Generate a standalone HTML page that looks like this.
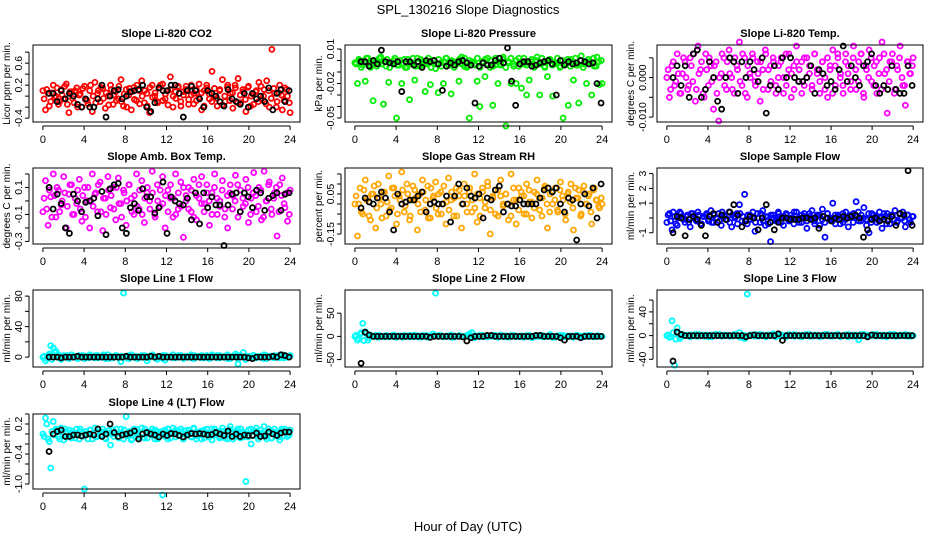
<!DOCTYPE html>
<html><head><meta charset="utf-8"><style>
html,body{margin:0;padding:0;background:#fff}
svg{display:block;font-family:"Liberation Sans",Arial,sans-serif}
</style></head><body>
<svg id="chart" width="936" height="540" viewBox="0 0 936 540">
<text x="468" y="14" text-anchor="middle" font-size="13">SPL_130216  Slope Diagnostics</text>
<text x="468" y="531" text-anchor="middle" font-size="13">Hour of Day (UTC)</text>
</svg>
<script>
const xTicks=[0,4,8,12,16,20,24];
const co2Color=[0.1,-0.25,0.05,-0.1,0.2,0.0,-0.15,0.12,-0.05,0.22,-0.3,0.08,-0.12,0.15,0.02,-0.2,0.18,-0.08,0.1,-0.28,0.25,0.05,-0.1,0.14,-0.22,0.0,0.2,-0.15,0.08,-0.05,0.3,-0.18,0.12,0.02,-0.25,0.16,-0.08,0.1,0.28,-0.12,0.05,-0.3,0.2,0.0,-0.1,0.15,0.22,-0.05,0.1,0.35,-0.2,0.08,0.18,-0.1,0.02,0.12,-0.15,0.2,0.05,-0.08,0.22,-0.25,0.1,0.15,-0.05,0.45,0.0,-0.18,0.12,0.3,-0.1,0.2,0.05,-0.22,0.15,0.32,-0.12,0.08,-0.28,0.18,0.0,-0.15,0.1,0.25,-0.05,0.12,0.28,-0.2,0.85,0.05,-0.1,0.2,-0.25,0.15,0.0,-0.3];
const co2Color2=[-0.05,0.12,-0.18,0.06,-0.02,0.15,-0.1,0.02,0.18,-0.15,0.08,-0.04,0.1,-0.2,0.04,0.14,-0.06,-0.14,0.2,0.0,-0.12,0.1,0.16,-0.04,0.06,-0.16,0.12,0.02,-0.08,0.18,-0.1,0.04,-0.2,0.14,0.08,-0.06,0.2,-0.14,0.0,0.1,-0.18,0.16,-0.02,0.06,-0.12,0.2,-0.08,0.04,-0.16,0.12,0.0,-0.04,0.16,-0.18,0.08,0.18,-0.06,0.02,-0.14,0.12,-0.02,0.06,-0.18,0.2,0.04,-0.1,0.14,-0.04,0.1,-0.16,0.0,0.16,-0.08,0.06,0.2,-0.12,0.02,0.12,-0.06,0.16,-0.18,0.04,0.08,-0.1,0.18,0.0,-0.14,0.1,-0.04,0.14,-0.2,0.06,0.02,-0.08,0.12,-0.12];
const co2Black=[0.05,0.05,-0.1,0.1,-0.05,0.05,0.0,-0.15,-0.2,-0.05,-0.2,-0.2,-0.05,0.2,-0.38,0.0,0.1,0.12,-0.05,0.0,0.08,0.1,0.12,0.2,-0.2,-0.28,-0.12,0.15,0.1,0.1,0.2,0.2,0.05,-0.38,0.1,0.18,0.1,-0.05,-0.2,0.1,0.05,0.0,-0.1,-0.18,0.12,-0.05,-0.1,-0.15,0.05,-0.2,0.05,-0.05,0.0,-0.1,0.15,-0.25,0.05,0.12,-0.1,0.1];
const presColor=[-0.002,-0.02,0.0,-0.004,-0.018,0.002,-0.006,-0.035,-0.001,-0.003,0.003,-0.038,-0.005,-0.019,-0.002,0.0,-0.05,-0.004,-0.02,0.001,-0.006,-0.034,-0.003,-0.017,0.002,-0.005,-0.001,-0.027,-0.003,-0.021,0.0,-0.007,-0.028,-0.002,-0.02,0.002,-0.004,-0.029,-0.001,-0.003,-0.018,0.003,-0.005,-0.006,-0.05,-0.002,-0.003,-0.018,-0.04,-0.001,-0.014,0.002,-0.006,-0.039,-0.004,-0.02,-0.003,0.003,-0.057,-0.001,-0.02,-0.005,-0.02,0.002,-0.024,-0.003,-0.03,-0.017,-0.001,-0.004,0.003,-0.03,-0.002,-0.006,-0.014,0.001,-0.031,-0.003,-0.002,-0.005,-0.05,-0.002,-0.039,0.001,-0.017,-0.004,-0.037,0.004,-0.003,-0.02,-0.001,-0.03,-0.005,0.003,-0.021,-0.02];
const presColor2=[-0.003,0.001,-0.006,-0.001,0.002,-0.004,-0.002,0.0,-0.005,0.002,-0.003,-0.001,0.001,-0.006,-0.002,0.002,-0.004,0.0,-0.003,-0.006,0.001,-0.002,0.002,-0.005,-0.001,0.001,-0.004,-0.002,0.002,-0.006,0.0,-0.003,0.001,-0.005,-0.001,0.002,-0.004,0.0,-0.006,-0.002,0.001,-0.003,0.002,-0.005,0.0,-0.001,-0.004,0.002,-0.006,-0.002,0.001,-0.003,0.0,-0.005,0.002,-0.001,-0.004,0.001,-0.006,-0.002,0.002,-0.003,0.0,-0.005,-0.001,0.002,-0.004,-0.002,0.001,-0.006,0.0,-0.003,0.002,-0.005,-0.001,0.001,-0.004,-0.002,0.002,-0.006,0.0,-0.003,0.001,-0.005,-0.001,0.002,-0.004,0.0,-0.006,-0.002,0.001,-0.003,0.002,-0.005,-0.001,0.0];
const presBlack=[-0.001,-0.001,-0.005,0.0,-0.003,0.009,-0.001,-0.002,-0.003,-0.001,-0.027,-0.001,-0.001,-0.004,-0.001,-0.006,0.0,-0.001,0.0,-0.003,-0.026,-0.005,-0.002,-0.004,-0.001,0.0,-0.002,-0.004,-0.037,-0.005,-0.002,-0.004,-0.004,0.0,0.002,-0.002,0.011,-0.018,-0.039,-0.003,-0.001,-0.001,-0.005,-0.004,-0.002,-0.001,0.0,-0.003,-0.03,0.0,-0.004,-0.001,-0.003,-0.002,0.0,-0.001,-0.003,-0.002,-0.02,-0.037];
const tempColor=[0.0,-0.005,0.003,-0.002,0.006,-0.004,0.001,0.004,-0.003,0.005,-0.001,-0.006,0.008,0.002,-0.004,0.006,-0.002,0.003,-0.008,0.004,-0.011,0.001,0.005,-0.003,0.007,0.0,-0.004,0.003,0.009,-0.002,0.005,-0.005,0.001,0.006,-0.001,0.004,-0.006,0.002,0.007,-0.003,0.003,0.005,-0.002,0.0,0.004,-0.004,0.006,0.002,-0.005,0.003,0.008,-0.001,0.004,-0.002,0.005,0.001,-0.003,0.006,0.002,-0.004,0.004,0.0,-0.005,0.003,0.007,-0.002,0.005,0.001,-0.004,0.006,0.003,-0.001,0.008,-0.003,0.004,0.006,-0.005,0.002,0.007,-0.001,0.003,-0.004,0.005,0.009,0.001,-0.009,0.004,0.006,-0.003,0.002,0.008,-0.002,-0.007,0.004,0.001,0.005];
const tempColor2=[0.002,-0.003,0.004,-0.001,0.001,-0.004,0.005,0.0,-0.002,0.003,0.006,-0.003,0.001,0.004,-0.005,0.002,0.005,-0.001,0.003,-0.004,0.0,0.006,-0.002,0.004,0.001,-0.003,0.005,0.002,-0.001,0.006,-0.004,0.003,0.0,0.005,-0.002,0.001,0.004,-0.003,0.006,0.002,-0.001,0.004,-0.004,0.003,0.005,0.0,-0.002,0.006,0.001,-0.003,0.004,0.002,-0.004,0.005,0.0,0.003,-0.002,0.006,0.001,-0.001,0.004,-0.003,0.005,0.002,-0.004,0.003,0.006,0.0,-0.002,0.004,0.001,-0.003,0.005,0.002,-0.001,0.006,-0.004,0.003,0.0,0.005,-0.002,0.004,0.001,-0.003,0.006,0.002,-0.001,0.004,-0.004,0.003,0.005,0.0,-0.002,0.004,0.001,0.003];
const tempBlack=[0.0,0.003,-0.002,0.003,-0.005,0.006,0.007,-0.005,-0.003,0.004,0.0,-0.006,-0.008,0.0,0.005,0.004,-0.004,0.004,0.0,0.004,0.002,-0.001,0.005,-0.009,-0.002,0.003,-0.003,0.005,0.0,0.005,0.0,-0.001,-0.001,0.0,0.003,-0.004,0.002,0.001,-0.002,-0.001,-0.003,0.002,0.008,-0.001,0.003,0.0,-0.002,0.003,0.004,0.006,-0.002,-0.004,-0.002,-0.003,0.003,-0.003,-0.004,-0.004,0.003,-0.002];
const ambColor=[-0.08,0.15,-0.18,0.03,0.2,-0.12,0.08,-0.03,0.18,-0.2,0.05,0.12,-0.1,-0.02,0.16,-0.15,0.1,0.0,-0.2,0.2,0.05,-0.08,0.14,-0.22,0.02,0.18,-0.05,0.1,-0.14,0.17,-0.02,0.08,-0.18,0.12,0.02,-0.1,0.2,-0.06,0.15,-0.16,0.06,0.0,0.22,-0.1,0.12,-0.04,0.18,-0.2,0.08,0.02,-0.12,0.2,-0.06,0.14,-0.27,0.04,0.1,-0.08,0.16,-0.14,0.02,0.18,-0.02,0.12,-0.18,0.06,0.2,-0.1,0.0,0.15,-0.06,-0.2,0.12,0.04,0.19,-0.12,0.08,-0.04,0.16,-0.16,0.02,0.21,-0.08,0.1,-0.14,0.22,0.0,0.14,-0.1,0.06,-0.26,0.12,0.17,-0.05,-0.15,0.08];
const ambColor2=[0.02,-0.06,0.08,-0.12,0.04,0.1,-0.08,0.0,0.06,-0.04,0.12,-0.1,0.02,0.08,-0.06,0.04,-0.12,0.1,0.0,-0.04,0.06,0.12,-0.08,0.02,-0.1,0.08,0.04,-0.06,0.1,-0.02,-0.12,0.06,0.0,0.12,-0.08,0.04,-0.04,0.08,-0.1,0.02,0.1,-0.06,0.06,-0.12,0.0,0.08,-0.02,0.04,-0.08,0.12,0.02,-0.1,0.06,-0.04,0.1,0.0,-0.06,0.08,-0.12,0.04,0.12,-0.02,-0.08,0.06,0.0,-0.1,0.1,0.02,-0.04,0.08,-0.12,0.04,0.06,-0.06,0.0,0.12,-0.08,0.02,-0.02,0.1,-0.1,0.06,0.04,-0.04,0.08,-0.12,0.0,0.12,-0.06,0.02,0.1,-0.08,0.04,-0.02,0.06,-0.1];
const ambBlack=[0.1,-0.06,0.05,-0.02,-0.2,-0.24,0.05,0.0,-0.08,-0.01,0.0,0.02,-0.11,0.07,-0.25,0.09,0.12,0.13,-0.2,-0.24,-0.05,-0.02,-0.07,0.09,0.03,0.03,-0.09,-0.05,0.14,-0.24,0.03,0.0,-0.02,-0.03,0.02,-0.14,0.06,-0.17,0.06,-0.05,0.03,-0.03,-0.03,-0.33,-0.03,0.05,0.06,-0.08,0.06,0.03,-0.05,0.08,0.06,-0.07,0.02,0.04,0.06,-0.07,0.05,0.06];
const rhColor=[0.0,-0.16,0.08,-0.05,0.12,0.03,-0.08,0.05,-0.12,0.1,0.0,0.06,-0.06,0.14,-0.02,0.08,-0.1,0.04,0.16,-0.04,0.1,-0.08,0.02,0.07,-0.13,0.05,0.12,-0.03,0.09,-0.07,0.03,0.11,-0.05,0.06,0.0,-0.1,0.13,0.02,-0.06,0.08,0.04,-0.12,0.1,0.0,0.06,-0.04,0.15,-0.09,0.03,0.08,-0.02,0.11,-0.15,0.04,0.07,-0.06,0.12,0.0,0.05,-0.08,0.15,0.02,-0.1,0.08,0.04,-0.05,0.1,0.01,-0.07,0.06,0.12,-0.03,0.03,0.09,-0.12,0.05,0.0,0.08,-0.04,0.11,0.02,-0.08,0.06,0.1,-0.13,0.03,0.07,-0.05,0.09,0.0,0.05,-0.1,0.08,0.02,-0.02,0.0];
const rhColor2=[0.04,0.0,-0.04,0.07,0.02,-0.06,0.05,0.09,-0.02,0.03,-0.07,0.06,0.01,-0.03,0.08,0.04,-0.05,0.02,0.07,-0.01,0.05,-0.06,0.09,0.03,0.0,-0.04,0.06,0.02,-0.07,0.08,0.04,-0.02,0.05,-0.05,0.09,0.01,-0.03,0.06,0.03,-0.06,0.07,0.0,0.04,-0.04,0.08,0.02,-0.02,0.05,-0.06,0.06,0.01,0.09,-0.03,0.03,-0.05,0.07,0.04,-0.01,0.05,0.0,-0.06,0.08,0.02,-0.03,0.06,0.04,-0.05,0.07,0.01,-0.02,0.05,0.03,-0.06,0.08,0.0,-0.04,0.06,0.02,-0.03,0.07,0.04,-0.05,0.05,0.01,-0.02,0.08,0.03,-0.06,0.06,0.0,0.04,-0.04,0.07,0.02,-0.01,0.03];
const rhBlack=[-0.02,0.03,0.01,0.0,0.03,0.06,0.03,-0.04,-0.13,0.05,0.0,0.01,0.02,0.02,0.04,0.06,-0.04,0.0,0.01,0.0,0.0,0.04,-0.09,0.04,0.1,0.0,0.08,0.04,0.03,0.05,-0.07,0.03,0.02,0.07,0.09,-0.04,0.0,-0.01,-0.01,0.02,0.0,0.0,0.0,0.0,0.03,0.07,0.08,0.06,0.08,0.0,-0.04,0.03,0.02,-0.18,0.0,0.05,-0.01,0.08,-0.07,0.1];
const sampColor=[-0.3,0.3,-0.8,0.1,-0.5,0.4,0.0,-0.3,0.2,-0.6,0.3,-0.1,0.4,-0.4,0.1,0.2,-0.2,0.5,-0.3,0.0,0.3,-0.5,0.2,-0.1,0.4,-0.6,0.1,0.3,0.9,-0.2,1.6,-0.4,0.2,0.0,-0.9,0.3,-0.3,0.5,-0.5,0.1,-1.6,0.2,-0.2,0.4,0.0,-0.5,0.3,-0.1,0.2,-0.4,0.4,0.0,-0.3,0.3,-0.7,0.1,0.5,-0.2,0.2,-0.5,0.6,-1.3,0.3,-0.1,1.0,-0.4,0.2,0.0,-0.3,0.4,-0.6,0.1,0.3,1.1,-0.2,0.2,0.7,-0.5,-1.0,0.3,0.0,-0.3,0.4,-0.7,0.1,0.3,-0.4,0.2,0.5,-0.2,0.0,0.4,-0.6,0.2,-0.3,0.1];
const sampColor2=[0.2,-0.2,0.4,-0.4,0.0,0.3,-0.1,0.1,-0.3,0.3,0.0,-0.2,0.2,-0.4,0.1,0.3,-0.1,-0.3,0.2,0.0,-0.2,0.4,0.1,-0.1,-0.3,0.2,0.0,-0.4,0.3,0.1,-0.2,0.2,-0.1,0.4,-0.3,0.0,0.3,-0.2,0.1,-0.4,0.2,0.0,-0.1,0.3,-0.3,0.1,0.2,-0.2,0.0,0.4,-0.1,-0.3,0.2,0.1,-0.2,0.3,0.0,-0.4,0.1,0.2,-0.1,-0.3,0.3,0.0,-0.2,0.2,0.1,-0.4,0.3,-0.1,0.0,0.2,-0.3,0.1,0.4,-0.2,0.0,-0.1,0.3,-0.3,0.2,0.1,-0.2,0.0,0.3,-0.4,0.1,0.2,-0.1,-0.3,0.3,0.0,-0.2,0.2,-0.1,0.1];
const sampBlack=[-1.0,0.1,0.0,-1.2,-0.1,0.1,-0.1,-0.5,-1.2,0.1,0.3,-0.3,0.2,-0.1,0.4,0.9,0.2,-0.6,-0.2,0.1,0.0,-0.8,0.0,0.9,-0.3,-0.8,-0.3,0.0,0.0,-0.1,-0.1,-0.1,0.0,0.0,-0.1,0.0,-0.7,0.1,0.0,-0.2,0.0,-0.1,0.1,0.0,0.1,0.2,0.0,-1.3,-0.8,-0.1,0.0,-0.2,-0.1,-0.2,0.1,-0.5,0.3,0.2,3.2,-0.5];
const l1Color=[0,-5,2,15,12,8,3,-3,2,0,-2,3,1,-1,2,0,-2,1,3,0,-1,2,0,1,-2,3,0,-1,2,0,-6,84,1,-2,3,0,1,-1,2,0,-5,1,2,0,-3,1,2,-4,0,1,3,-1,0,2,-1,1,0,3,-2,1,0,2,-1,1,0,3,0,-1,2,0,1,-2,0,1,4,-9,2,6,-3,1,0,2,-1,1,0,3,-2,1,0,2,0,-1,3,1,0,2];
const l1Color2=[1,-2,4,-3,6,2,-1,1,0,2,-1,0,1,-2,0,2,1,-1,0,1,2,-1,0,3,0,-2,1,0,2,-1,1,0,-1,2,0,1,-2,0,1,2,-1,0,3,-1,0,1,-2,2,0,1,-1,0,2,1,-2,0,1,-1,2,0,1,-1,0,2,-2,1,0,2,-1,0,1,3,-2,0,1,-1,2,0,-3,1,0,2,-1,0,1,-2,2,0,1,-1,0,2,1,-1,0,1];
const l1Black=[0,0,0,-1,0,0,0,1,0,0,0,0,0,0,0,0,0,0,0,1,0,0,0,0,0,1,0,1,0,0,0,0,0,0,0,0,0,0,0,0,0,0,0,0,0,0,0,0,0,-1,-2,0,0,0,0,1,0,3,2,0];
const l2Color=[0,-8,5,28,10,-8,3,0,2,-2,1,0,2,-1,0,3,-2,1,0,2,0,-1,1,3,-1,0,2,0,-2,1,5,93,0,2,-1,0,1,3,-2,0,1,0,-1,2,5,8,-3,0,2,0,-1,1,0,2,0,-1,3,0,1,-2,0,2,1,0,-1,0,2,0,-3,1,0,2,-1,0,1,4,0,-2,1,0,2,-1,0,1,0,2,-1,0,1,0,2,0,-1,1,0,0];
const l2Color2=[2,-4,8,-9,6,-3,1,0,-1,2,0,-1,1,0,2,-1,0,1,-2,0,1,2,-1,0,1,-2,0,2,1,-1,0,1,2,0,-1,1,0,-2,1,0,2,-1,0,1,3,-2,0,1,-1,2,0,-1,1,0,2,-2,0,1,-1,0,2,1,-1,0,1,-2,0,2,0,-1,1,0,2,-1,0,1,-2,0,1,2,-1,0,1,0,-2,1,2,0,-1,1,0,2,-1,0,1,0];
const l2Black=[-58,9,3,0,0,0,0,0,0,0,0,0,0,0,0,0,0,-2,0,0,0,0,0,0,0,-1,-10,-3,0,0,0,2,2,0,0,0,0,0,0,0,0,0,0,2,2,0,0,0,0,-3,-8,0,0,0,-3,0,0,0,0,0];
const l3Color=[0,-3,25,-50,13,-5,2,0,1,-2,0,2,-1,0,1,0,-2,1,0,2,0,-1,1,0,-1,0,2,0,5,-3,-5,70,0,1,-1,0,2,0,-1,1,0,3,-2,0,1,0,-2,1,0,2,0,-1,1,0,2,-1,0,1,0,-2,1,0,2,0,-1,1,0,-2,0,1,2,0,-1,1,-7,0,2,0,-1,1,0,2,0,-1,1,0,2,0,-1,0,1,0,2,0,-1,0];
const l3Color2=[1,-2,5,-6,4,-2,1,0,-1,1,0,-1,2,0,-1,1,0,-2,1,0,2,-1,0,1,0,-1,2,0,-3,1,0,-1,1,0,2,-1,0,1,-2,0,1,2,-1,0,1,-1,0,2,0,-1,1,0,-2,1,0,2,-1,0,1,0,-1,2,0,-1,1,0,2,-1,0,1,-2,0,1,0,-1,2,0,-1,1,0,2,-1,0,1,0,-2,1,0,2,-1,0,1,0,-1,1,0];
const l3Black=[-43,6,2,0,0,0,0,0,0,0,0,0,0,0,0,0,0,0,-2,0,1,0,0,0,0,0,3,-8,0,0,0,0,0,0,0,0,0,0,0,0,0,0,0,0,0,0,0,0,-2,1,0,0,0,0,0,0,0,0,0,0];
const l4Color=[0.0,0.32,-0.1,-0.68,0.25,0.1,-0.05,0.12,-0.12,0.05,0.08,-0.08,0.02,0.1,-0.1,0.05,-1.1,0.0,0.08,-0.1,0.12,-0.05,0.04,0.1,-0.08,0.02,-0.22,0.08,0.0,-0.05,0.1,-0.1,0.35,0.0,-0.12,0.1,0.03,-0.06,0.12,-0.08,0.04,0.0,0.1,-0.1,0.05,-0.05,-1.22,0.08,-0.1,0.02,0.12,-0.06,0.04,0.1,-0.1,0.0,0.08,-0.05,0.12,-0.1,0.03,0.06,-0.08,0.1,0.0,-0.12,0.1,0.05,-0.05,0.12,-0.08,0.03,0.15,-0.1,0.05,0.0,0.1,-0.06,-0.95,0.08,-0.2,0.05,0.12,-0.05,0.02,0.15,-0.1,0.05,-0.08,0.1,0.0,-0.12,0.06,0.1,-0.05,0.08];
const l4Color2=[-0.05,0.2,-0.15,0.05,-0.02,0.08,-0.1,0.04,0.1,-0.06,0.0,0.06,-0.08,0.02,0.1,-0.04,0.05,-0.1,0.08,0.0,-0.06,0.1,-0.02,0.04,-0.1,0.07,0.0,-0.05,0.1,-0.08,0.03,0.08,-0.04,0.05,-0.1,0.0,0.09,-0.06,0.02,0.1,-0.08,0.05,-0.02,0.08,-0.1,0.03,0.06,-0.05,0.1,-0.08,0.0,0.08,-0.03,0.05,-0.1,0.07,0.02,-0.06,0.1,-0.04,0.04,-0.1,0.08,0.0,-0.06,0.1,-0.02,0.05,-0.08,0.06,0.0,-0.1,0.09,0.02,-0.05,0.1,-0.08,0.04,0.0,-0.06,0.1,-0.03,0.06,-0.1,0.08,0.0,-0.05,0.1,-0.08,0.04,0.02,-0.06,0.1,-0.04,0.05,-0.02];
const l4Black=[-0.35,0.0,0.05,0.08,-0.05,-0.05,-0.02,-0.02,-0.04,-0.02,0.0,-0.02,0.1,-0.05,0.0,0.2,0.03,-0.05,-0.02,0.0,0.02,0.06,-0.1,0.0,0.03,0.0,-0.02,-0.06,0.0,-0.03,0.01,0.0,-0.03,-0.06,-0.02,0.01,0.0,0.01,0.0,-0.02,-0.01,0.03,0.0,-0.03,0.06,-0.05,0.0,-0.05,-0.02,-0.03,-0.03,0.02,-0.05,-0.04,0.04,0.0,-0.03,0.02,0.04,0.04];

const cols=[[33,300],[345,612],[657,923]];
const rows=[[45,122],[168,244],[290,367],[414,489]];
const panels=[
 {name:'co2',title:'Slope Li-820 CO2',ylab:'Licor ppm per min.',col:'#ff0000',c:0,r:0,ymin:-0.47,ymax:0.93,ticks:[-0.4,-0.2,0,0.2,0.4,0.6,0.8],labels:[-0.4,0.2,0.6],lf:1,cv:co2Color,cv2:co2Color2,bv:co2Black},
 {name:'pressure',title:'Slope Li-820 Pressure',ylab:'kPa per min.',col:'#00ee00',c:1,r:0,ymin:-0.0535,ymax:0.0135,ticks:[0.01,0,-0.01,-0.02,-0.03,-0.04,-0.05],labels:[0.01,-0.02,-0.05],lf:2,cv:presColor,cv2:presColor2,bv:presBlack},
 {name:'temp',title:'Slope Li-820 Temp.',ylab:'degrees C per min.',col:'#ff00ff',c:2,r:0,ymin:-0.01125,ymax:0.00825,ticks:[0.005,0,-0.005,-0.01],labels:[0,-0.01],lf:3,cv:tempColor,cv2:tempColor2,bv:tempBlack},
 {name:'amb-box-temp',title:'Slope Amb. Box Temp.',ylab:'degrees C per min.',col:'#ff00ff',c:0,r:1,ymin:-0.319,ymax:0.244,ticks:[0.2,0.1,0,-0.1,-0.2,-0.3],labels:[0.1,-0.1,-0.3],lf:1,cv:ambColor,cv2:ambColor2,bv:ambBlack},
 {name:'gas-stream-rh',title:'Slope Gas Stream RH',ylab:'percent per min.',col:'#ffa500',c:1,r:1,ymin:-0.2,ymax:0.18,ticks:[0.15,0.1,0.05,0,-0.05,-0.1,-0.15],labels:[0.05,-0.15],lf:2,cv:rhColor,cv2:rhColor2,bv:rhBlack},
 {name:'sample-flow',title:'Slope Sample Flow',ylab:'ml/min per min.',col:'#0000ff',c:2,r:1,ymin:-1.76,ymax:3.38,ticks:[3,2,1,0,-1],labels:[3,2,1,-1],lf:0,cv:sampColor,cv2:sampColor2,bv:sampBlack},
 {name:'line1-flow',title:'Slope Line 1 Flow',ylab:'ml/min per min.',col:'#00ffff',c:0,r:2,ymin:-13,ymax:88,ticks:[80,60,40,20,0],labels:[80,40,0],lf:0,cv:l1Color,cv2:l1Color2,bv:l1Black},
 {name:'line2-flow',title:'Slope Line 2 Flow',ylab:'ml/min per min.',col:'#00ffff',c:1,r:2,ymin:-66,ymax:100,ticks:[50,0,-50],labels:[50,0,-50],lf:0,cv:l2Color,cv2:l2Color2,bv:l2Black},
 {name:'line3-flow',title:'Slope Line 3 Flow',ylab:'ml/min per min.',col:'#00ffff',c:2,r:2,ymin:-53,ymax:77,ticks:[60,40,20,0,-20,-40],labels:[40,0,-40],lf:0,cv:l3Color,cv2:l3Color2,bv:l3Black},
 {name:'line4-flow',title:'Slope Line 4 (LT) Flow',ylab:'ml/min per min.',col:'#00ffff',c:0,r:3,ymin:-1.1,ymax:0.4,ticks:[0.4,0.2,0,-0.2,-0.4,-0.6,-0.8,-1.0],labels:[0.2,-0.4,-1.0],lf:1,cv:l4Color,cv2:l4Color2,bv:l4Black}
];
const NS='http://www.w3.org/2000/svg';
const svg=document.getElementById('chart');
function mk(tag,attrs,parent){const e=document.createElementNS(NS,tag);for(const k in attrs)e.setAttribute(k,attrs[k]);parent.appendChild(e);return e;}
panels.forEach(p=>{
  const [x0,x1]=cols[p.c],[y0,y1]=rows[p.r];
  const xs=v=>x0+(v+0.96)/25.92*(x1-x0);
  const ys=v=>y1-(v-p.ymin)/(p.ymax-p.ymin)*(y1-y0);
  const g=mk('g',{},svg);
  
  
  const t=mk('text',{x:(x0+x1)/2,y:y0-8,'text-anchor':'middle','font-size':'11','font-weight':'bold'},g);
  t.textContent=p.title;
  
  
  const pts=mk('g',{fill:'none','stroke-width':'1.8'},g);
  
  
  const n=p.cv.length;
  p.cv.forEach((v,i)=>{
    const c=mk('circle',{cx:xs(i*24/(n-1)),cy:ys(v),r:2.5,stroke:p.col},pts);
    
    
  });
  const n2=p.cv2.length;
  p.cv2.forEach((v,i)=>{
    const c=mk('circle',{cx:xs(0.12+i*23.8/(n2-1)),cy:ys(v),r:2.5,stroke:p.col},pts);
    
    
  });
  const m=p.bv.length;
  p.bv.forEach((v,i)=>{
    const c=mk('circle',{cx:xs(0.6+i*23.3/(m-1)),cy:ys(v),r:2.5,stroke:'#000'},pts);
    
    
  });
  const box=mk('rect',{x:x0,y:y0,width:x1-x0,height:y1-y0,fill:'none',stroke:'#000','stroke-width':'1'},g);
  
  
  const ax=mk('g',{stroke:'#000','stroke-width':'1'},g);
  
  
  mk('line',{x1:xs(0),x2:xs(24),y1:y1+4,y2:y1+4},ax);
  xTicks.forEach(v=>{
    mk('line',{x1:xs(v),x2:xs(v),y1:y1+4,y2:y1+8},ax);
    const tl=mk('text',{x:xs(v),y:y1+21,'text-anchor':'middle','font-size':'11',stroke:'none'},ax);
    tl.textContent=v;
    
    
  });
  const tk=p.ticks;
  mk('line',{x1:x0-4,x2:x0-4,y1:ys(Math.min(...tk)),y2:ys(Math.max(...tk))},ax);
  tk.forEach(v=>mk('line',{x1:x0-4,x2:x0-8,y1:ys(v),y2:ys(v)},ax));
  p.labels.forEach(v=>{
    const yy=ys(v);
    const tl=mk('text',{x:0,y:0,transform:`translate(${x0-11},${yy}) rotate(-90)`,'text-anchor':'middle','font-size':'10.5',stroke:'none'},ax);
    tl.textContent=v.toFixed(p.lf);
    
    
  });
  const yl=mk('text',{x:0,y:0,transform:`translate(${x0-23},${(y0+y1)/2}) rotate(-90)`,'text-anchor':'middle','font-size':'10'},g);
  yl.textContent=p.ylab;
  
  
});
</script>
</body></html>
